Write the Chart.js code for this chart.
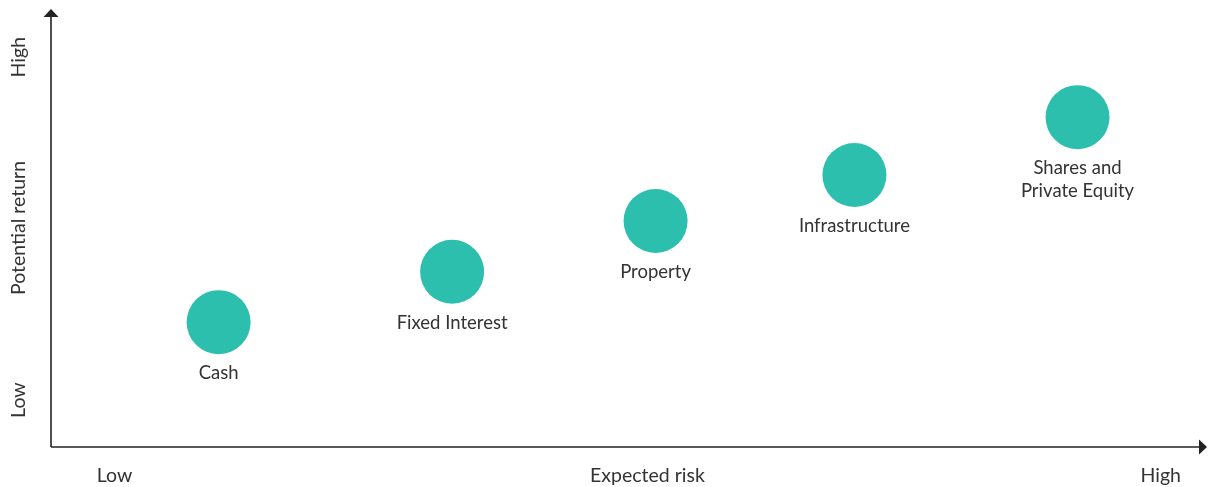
<!DOCTYPE html>
<html><head><meta charset="utf-8">
<script src="https://cdn.jsdelivr.net/npm/chart.js@4"></script>
<style>html,body{margin:0;padding:0;background:#fff}#wrap{width:1214px;height:487px}</style>
</head><body><div id="wrap"><canvas id="c" width="1214" height="487"></canvas></div>
<script>
const categories = ["Cash", "Fixed Interest", "Property", "Infrastructure", "Shares and\nPrivate Equity"];
const riskValues = [14.5, 34.7, 52.3, 69.5, 88.8];
const returnValues = [28.5, 40.0, 51.6, 62.1, 75.3];
const xTickLabels = ["Low", "Expected risk", "High"];
const xTickValues = [5.5, 51.6, 96.0];
const yTickLabels = ["Low", "Potential return", "High"];
const yTickValues = [10.7, 50.0, 89.0];

const FONT = "Lato, 'Open Sans', sans-serif";
const TEXT = "#333333";

const overlay = {
  id: 'overlay',
  afterDatasetsDraw(chart) {
    const ctx = chart.ctx, xs = chart.scales.x, ys = chart.scales.y, a = chart.chartArea;
    ctx.save();
    // axes
    ctx.strokeStyle = '#222'; ctx.fillStyle = '#222'; ctx.lineWidth = 1.6;
    const ox = a.left, oy = a.bottom;
    ctx.beginPath(); ctx.moveTo(ox, oy); ctx.lineTo(ox, a.top + 6); ctx.stroke();
    ctx.beginPath(); ctx.moveTo(ox, oy); ctx.lineTo(a.right - 6, oy); ctx.stroke();
    ctx.beginPath(); ctx.moveTo(ox, a.top); ctx.lineTo(ox - 7.5, a.top + 8); ctx.lineTo(ox + 7.5, a.top + 8); ctx.closePath(); ctx.fill();
    ctx.beginPath(); ctx.moveTo(a.right, oy); ctx.lineTo(a.right - 8, oy - 7.5); ctx.lineTo(a.right - 8, oy + 7.5); ctx.closePath(); ctx.fill();
    // point labels
    ctx.fillStyle = TEXT; ctx.font = "18.5px " + FONT; ctx.textAlign = 'center'; ctx.textBaseline = 'middle';
    categories.forEach((lab, i) => {
      const px = xs.getPixelForValue(riskValues[i]), py = ys.getPixelForValue(returnValues[i]);
      lab.split("\n").forEach((ln, j) => ctx.fillText(ln, px, py + 51 + j * 23));
    });
    // x tick labels
    ctx.font = "19.5px " + FONT;
    xTickLabels.forEach((t, i) => ctx.fillText(t, xs.getPixelForValue(xTickValues[i]), 476));
    // y tick labels rotated
    yTickLabels.forEach((t, i) => {
      ctx.save(); ctx.translate(19, ys.getPixelForValue(yTickValues[i])); ctx.rotate(-Math.PI / 2);
      ctx.fillText(t, 0, 0); ctx.restore();
    });
    ctx.restore();
  }
};

new Chart(document.getElementById('c'), {
  type: 'scatter',
  data: {
    datasets: [{
      data: riskValues.map((x, i) => ({ x, y: returnValues[i] })),
      backgroundColor: '#2cbfae', borderWidth: 0, pointRadius: 32, pointHoverRadius: 32, clip: false
    }]
  },
  options: {
    responsive: false, animation: false,
    layout: { autoPadding: false, padding: { left: 51, top: 9, right: 7, bottom: 40 } },
    plugins: { legend: { display: false }, tooltip: { enabled: false } },
    scales: {
      x: { display: false, min: 0, max: 100 },
      y: { display: false, min: 0, max: 100 }
    }
  },
  plugins: [overlay]
});
</script></body></html>
